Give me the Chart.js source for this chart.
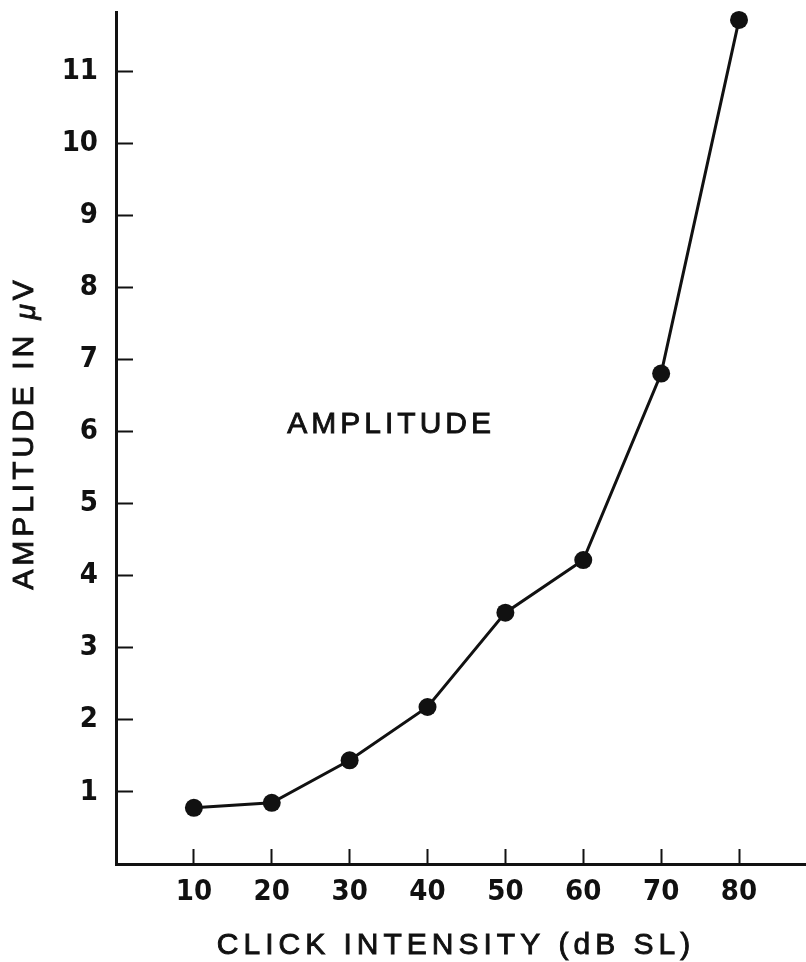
<!DOCTYPE html>
<html>
<head>
<meta charset="utf-8">
<script src="https://cdn.jsdelivr.net/npm/chart.js@4.4.1/dist/chart.umd.min.js"></script>
<style>
html,body{margin:0;padding:0;background:#fff;}
#wrap{width:806px;height:962px;}
</style>
</head>
<body>
<div id="wrap"><canvas id="myChart" width="806" height="962"></canvas></div>
<script>
// values
const clickIntensity=[10,20,30,40,50,60,70,80]
const amplitude=[0.78,0.85,1.44,2.18,3.49,4.22,6.81,11.72]
const xTickValues=[10,20,30,40,50,60,70,80]
const yTickValues=[1,2,3,4,5,6,7,8,9,10,11]
const xTitle='CLICK INTENSITY (dB SL)'
const yTitle='AMPLITUDE IN '
const yUnit=['\u03bc','V']
const curveLabel='AMPLITUDE'
const curveLabelAt=[22,6.1]

const ink='#111'
const tickFont={family:'"Liberation Sans Narrow", "DejaVu Sans Condensed", sans-serif',size:29,weight:'bold'}
const titleFamily='"Liberation Sans", Arial, sans-serif'

function fixBox(s){
    s.paddingTop=0
    s.paddingBottom=0
    s.paddingLeft=0
    s.paddingRight=0
}

// fill + thin stroke so the titles look a bit heavier, like the print
function heavyText(c,txt,x,y){
    c.fillText(txt,x,y)
    c.strokeText(txt,x,y)
}

const axisTitles={
    id:'axisTitles',
    afterDraw(chart){
        const c=chart.ctx
        c.save()
        c.fillStyle=ink
        c.strokeStyle=ink
        c.lineWidth=0.9
        c.letterSpacing='5px'
        c.font='30px '+titleFamily
        c.textAlign='center'
        c.textBaseline='middle'
        heavyText(c,xTitle,456,946)

        // label next to the curve, placed in data units
        c.letterSpacing='4px'
        c.textAlign='left'
        const lx=chart.scales.x.getPixelForValue(curveLabelAt[0])
        const ly=chart.scales.y.getPixelForValue(curveLabelAt[1])
        heavyText(c,curveLabel,lx,ly)

        // y title, rotated, with italic mu
        c.translate(25,433)
        c.rotate(-Math.PI/2)
        c.font='30px '+titleFamily
        const w1=c.measureText(yTitle).width
        c.font='italic 28px '+titleFamily
        const w2=c.measureText(yUnit[0]).width
        c.font='30px '+titleFamily
        const w3=c.measureText(yUnit[1]).width
        let x0=-(w1+w2+w3)/2
        heavyText(c,yTitle,x0,0)
        x0+=w1
        c.font='italic 28px '+titleFamily
        heavyText(c,yUnit[0],x0,2)
        x0+=w2
        c.font='30px '+titleFamily
        heavyText(c,yUnit[1],x0,0)
        c.restore()
    }
}

const ctx=document.getElementById('myChart')
const myChart=new Chart(ctx,{
    type:'line',
    data:{
        datasets:[{
            data:clickIntensity.map((x,i)=>({x:x,y:amplitude[i]})),
            borderColor:ink,
            borderWidth:3,
            tension:0,
            pointRadius:9,
            pointBorderWidth:0,
            pointBackgroundColor:ink,
            clip:false
        }]
    },
    options:{
        responsive:false,
        animation:false,
        layout:{autoPadding:false,padding:{top:12,left:0,right:0,bottom:0}},
        plugins:{legend:{display:false},tooltip:{enabled:false}},
        scales:{
            x:{
                type:'linear',
                min:0,
                max:88.6,
                afterBuildTicks:s=>{s.ticks=xTickValues.map(v=>({value:v}))},
                afterFit:s=>{s.height=98;fixBox(s)},
                grid:{drawOnChartArea:false,tickLength:-15,tickWidth:2,tickColor:ink},
                border:{color:ink,width:3},
                ticks:{color:ink,font:tickFont,padding:26,maxRotation:0,autoSkip:false}
            },
            y:{
                type:'linear',
                min:0,
                max:11.83,
                afterBuildTicks:s=>{s.ticks=yTickValues.map(v=>({value:v}))},
                afterFit:s=>{s.width=116;fixBox(s)},
                grid:{drawOnChartArea:false,tickLength:-17,tickWidth:2,tickColor:ink},
                border:{color:ink,width:3},
                ticks:{color:ink,font:tickFont,padding:35,autoSkip:false}
            }
        }
    },
    plugins:[axisTitles]
})
</script>
</body>
</html>
